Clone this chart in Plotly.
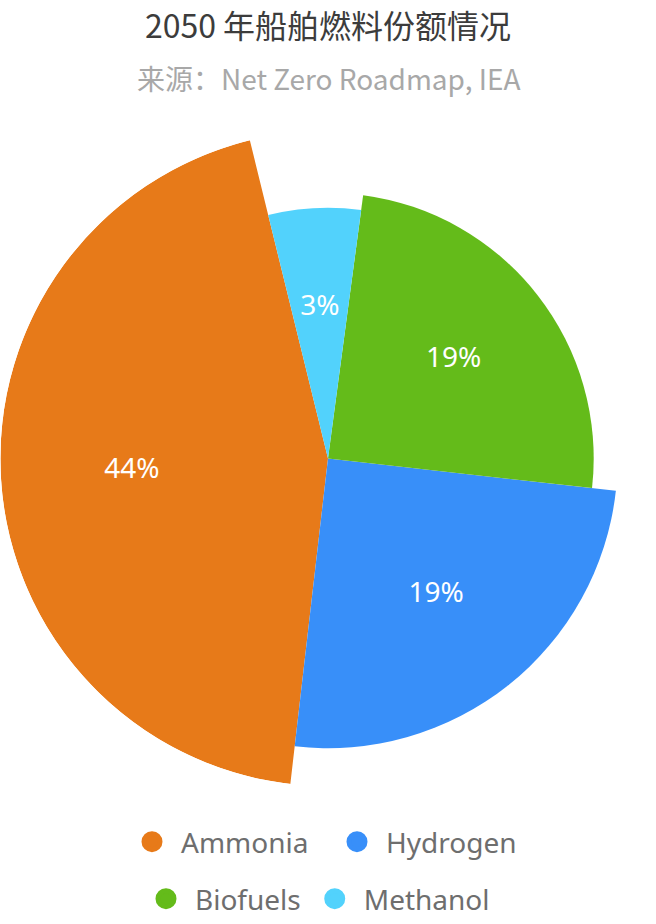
import plotly.graph_objects as go

# ---- data ----
fuels = ["Ammonia", "Hydrogen", "Biofuels", "Methanol"]
span_deg = [159.6, 90.2, 88.8, 21.4]        # angular size of each sector (degrees)
radius = [328, 290, 266, 251]               # sector radius (rose type)
pct_labels = ["44%", "19%", "19%", "3%"]
colors = ["#E77A19", "#388FF9", "#64BB1A", "#52D2FC"]
start_angle = 103.8                          # where the first sector starts (deg, ccw from east)

# cumulative sector centres
centers = []
acc = 0.0
for s in span_deg:
    centers.append(acc + s / 2)
    acc += s

W, H = 656, 924
cx, cy = 328, 459
rmax = max(radius)

fig = go.Figure()
fig.add_trace(go.Barpolar(
    r=radius, theta=centers, width=span_deg,
    marker=dict(color=colors, line=dict(width=0)),
    showlegend=False, hoverinfo="skip"))

fig.add_trace(go.Scatterpolar(
    r=[r * 0.6 for r in radius], theta=centers, mode="text",
    text=pct_labels, textfont=dict(color="white", size=28, family="Noto Sans"),
    showlegend=False, hoverinfo="skip"))

legend_of = ["legend", "legend", "legend2", "legend2"]
for name, col, lg in zip(fuels, colors, legend_of):
    fig.add_trace(go.Scatterpolar(
        r=[None], theta=[None], mode="markers", name=name,
        marker=dict(color=col, size=22, symbol="circle", line=dict(color=col, width=5)),
        legend=lg, legendgroup=name, showlegend=True))

legend_common = dict(orientation="h", xanchor="center", yanchor="middle",
                     font=dict(size=28, color="#6E6E6E", family="Noto Sans"),
                     itemwidth=48, bgcolor="rgba(0,0,0,0)")
fig.update_layout(
    width=W, height=H,
    margin=dict(l=0, r=0, t=0, b=0),
    paper_bgcolor="white", plot_bgcolor="white",
    title=dict(text="2050 年船舶燃料份额情况", x=0.5, xanchor="center",
               y=1 - 27 / H, yanchor="middle", yref="container",
               font=dict(size=32, color="#3C3C3C", family="Noto Sans CJK SC")),
    annotations=[dict(text="来源：Net Zero Roadmap, IEA", x=0.5, xref="paper",
                      y=1 - 78 / H, yref="paper", showarrow=False,
                      xanchor="center", yanchor="middle",
                      font=dict(size=28, color="#A8A8A8", family="Noto Sans CJK SC"))],
    polar=dict(
        domain=dict(x=[(cx - rmax) / W, (cx + rmax) / W],
                    y=[(H - cy - rmax) / H, (H - cy + rmax) / H]),
        bgcolor="rgba(0,0,0,0)",
        radialaxis=dict(visible=False, range=[0, rmax]),
        angularaxis=dict(visible=False, rotation=start_angle, direction="counterclockwise",
                         showgrid=False, showline=False, showticklabels=False, ticks=""),
        bargap=0),
    legend=dict(x=0.5, y=1 - 842 / H, entrywidth=142, entrywidthmode="pixels", **legend_common),
    legend2=dict(x=0.5 - 12 / W, y=1 - 900 / H, tracegroupgap=8, **legend_common),
)

fig.write_html("out.html", config={"displayModeBar": False},
               post_script="document.body.style.margin='0';")
